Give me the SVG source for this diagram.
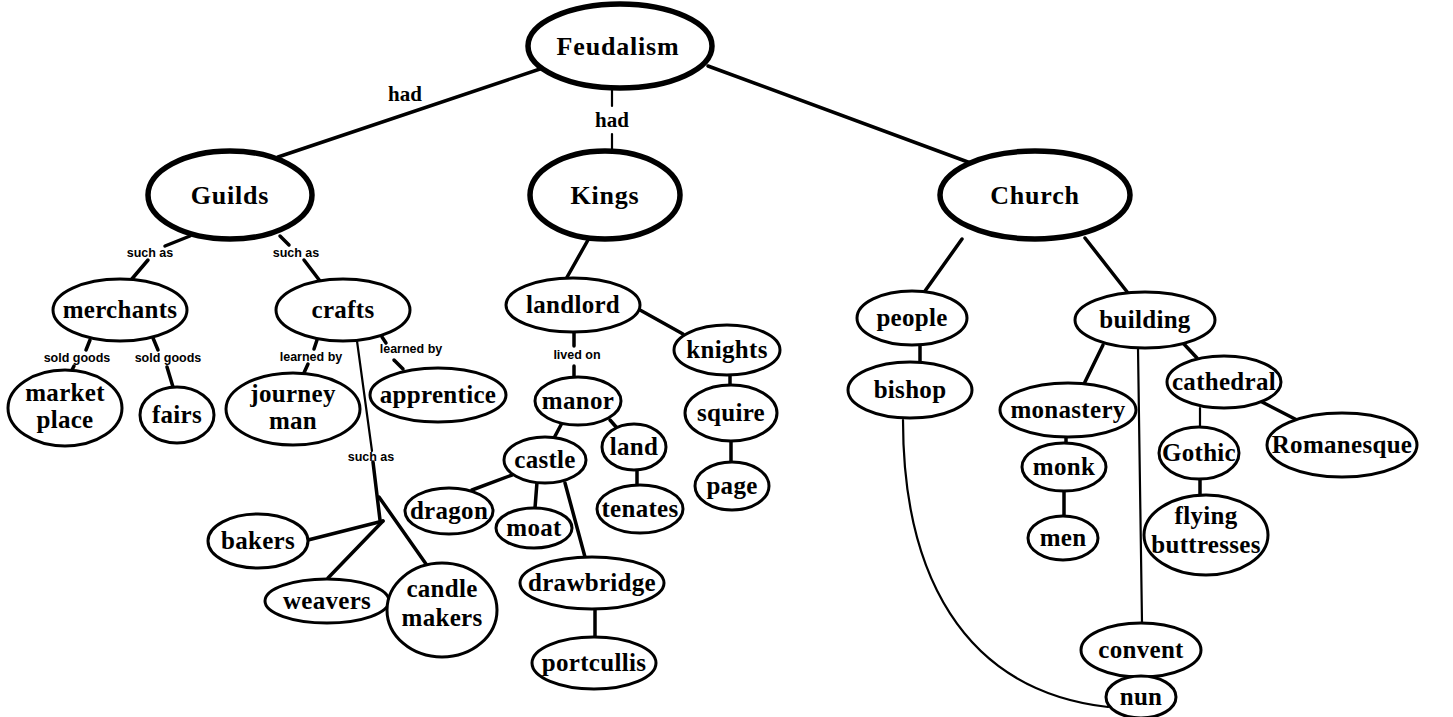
<svg xmlns="http://www.w3.org/2000/svg" width="1453" height="717" viewBox="0 0 1453 717">
<style>
.n{fill:#fff;stroke:#000;stroke-width:3}
.m{fill:#fff;stroke:#000;stroke-width:5.5}
.t{font-family:"Liberation Serif",serif;font-weight:bold;font-size:25px;letter-spacing:0.3px;text-anchor:middle;fill:#000}
.tm{font-family:"Liberation Serif",serif;font-weight:bold;font-size:26px;letter-spacing:0.8px;text-anchor:middle;fill:#000}
.l{font-family:"Liberation Sans",sans-serif;font-weight:bold;font-size:12.5px;text-anchor:middle;fill:#000}
.lh{font-family:"Liberation Serif",serif;font-weight:bold;font-size:21px;text-anchor:middle;fill:#000}
.c line,.c path{stroke:#000;stroke-width:3.5;fill:none;stroke-linecap:round}
.c .thin{stroke-width:2.2}
</style>
<rect width="1453" height="717" fill="#fff"/>
<g class="c" id="connectors">
<line x1="543" y1="68" x2="278" y2="157"/>
<line class="thin" x1="612" y1="88" x2="612" y2="106"/>
<line class="thin" x1="612" y1="134" x2="612" y2="152"/>
<line x1="708" y1="66" x2="976" y2="165"/>
<line x1="190" y1="236" x2="165" y2="246"/>
<line x1="148" y1="260" x2="131" y2="280"/>
<line x1="280" y1="236" x2="289" y2="245"/>
<line x1="304" y1="260" x2="320" y2="281"/>
<line x1="90" y1="340" x2="86" y2="350"/>
<line x1="74" y1="366" x2="70" y2="374"/>
<line x1="153" y1="338" x2="158" y2="350"/>
<line x1="167" y1="367" x2="173" y2="387"/>
<line x1="317" y1="340" x2="314" y2="349"/>
<line x1="308" y1="364" x2="303" y2="375"/>
<line x1="382" y1="337" x2="386" y2="343"/>
<line x1="394" y1="360" x2="403" y2="369"/>
<line class="thin" x1="357" y1="341" x2="372" y2="451"/>
<line x1="373" y1="462" x2="380" y2="520"/>
<line x1="383" y1="521" x2="308" y2="540"/>
<line x1="383" y1="521" x2="328" y2="578"/>
<line x1="379" y1="497" x2="426" y2="564"/>
<line x1="588" y1="240" x2="566" y2="279"/>
<line x1="574" y1="333" x2="574" y2="346"/>
<line x1="574" y1="366" x2="574" y2="377"/>
<line x1="640" y1="310" x2="683" y2="334"/>
<line x1="730" y1="375" x2="730" y2="386"/>
<line x1="731" y1="442" x2="731" y2="462"/>
<line x1="562" y1="423" x2="554" y2="438"/>
<line x1="610" y1="420" x2="617" y2="428"/>
<line x1="637" y1="470" x2="637" y2="485"/>
<line x1="512" y1="475" x2="472" y2="490"/>
<line x1="537" y1="482" x2="535" y2="508"/>
<line x1="565" y1="483" x2="585" y2="557"/>
<line x1="595" y1="609" x2="595" y2="637"/>
<line x1="962" y1="239" x2="925" y2="291"/>
<line x1="1085" y1="238" x2="1128" y2="293"/>
<line x1="920" y1="346" x2="920" y2="362"/>
<line x1="1103" y1="345" x2="1083" y2="386"/>
<line x1="1183" y1="343" x2="1197" y2="358"/>
<line class="thin" x1="1138" y1="348" x2="1142" y2="623"/>
<line x1="1142" y1="677" x2="1142" y2="676"/>
<line x1="1262" y1="402" x2="1297" y2="420"/>
<line class="thin" x1="1200" y1="408" x2="1200" y2="428"/>
<line x1="1200" y1="478" x2="1200" y2="496"/>
<line x1="1066" y1="437" x2="1066" y2="444"/>
<line x1="1064" y1="491" x2="1064" y2="516"/>
<path class="thin" d="M903 420 C903 570 960 690 1108 707"/>
</g>
<g id="labels">
<text class="lh" x="405" y="101">had</text>
<text class="lh" x="612" y="127">had</text>
<text class="l" x="150" y="257">such as</text>
<text class="l" x="296" y="257">such as</text>
<text class="l" x="77" y="362">sold goods</text>
<text class="l" x="168" y="362">sold goods</text>
<text class="l" x="311" y="361">learned by</text>
<text class="l" x="411" y="353">learned by</text>
<text class="l" x="371" y="461">such as</text>
<text class="l" x="577" y="359">lived on</text>
</g>
<g id="Feudalism"><ellipse class="m" cx="620" cy="46" rx="92" ry="42"/><text class="tm" x="618" y="55">Feudalism</text></g>
<g id="Guilds"><ellipse class="m" cx="230" cy="195" rx="82" ry="44"/><text class="tm" x="230" y="204">Guilds</text></g>
<g id="Kings"><ellipse class="m" cx="605" cy="195" rx="75" ry="44"/><text class="tm" x="605" y="204">Kings</text></g>
<g id="Church"><ellipse class="m" cx="1035" cy="195" rx="95" ry="44"/><text class="tm" x="1035" y="204">Church</text></g>
<g id="merchants"><ellipse class="n" cx="120" cy="310" rx="67" ry="31"/><text class="t" x="120" y="318">merchants</text></g>
<g id="crafts"><ellipse class="n" cx="343" cy="310" rx="67" ry="31"/><text class="t" x="343" y="318">crafts</text></g>
<g id="market-place"><ellipse class="n" cx="65" cy="408" rx="57" ry="38"/><text class="t" x="65" y="401">market</text><text class="t" x="65" y="428">place</text></g>
<g id="fairs"><ellipse class="n" cx="177" cy="415" rx="37" ry="28"/><text class="t" x="177" y="423">fairs</text></g>
<g id="journey-man"><ellipse class="n" cx="293" cy="409" rx="67" ry="36"/><text class="t" x="293" y="402">journey</text><text class="t" x="293" y="429">man</text></g>
<g id="apprentice"><ellipse class="n" cx="438" cy="395" rx="68" ry="27"/><text class="t" x="438" y="403">apprentice</text></g>
<g id="bakers"><ellipse class="n" cx="258" cy="541" rx="50" ry="27"/><text class="t" x="258" y="549">bakers</text></g>
<g id="weavers"><ellipse class="n" cx="327" cy="601" rx="62" ry="22"/><text class="t" x="327" y="609">weavers</text></g>
<g id="candle-makers"><ellipse class="n" cx="442" cy="610" rx="55" ry="47"/><text class="t" x="442" y="597">candle</text><text class="t" x="442" y="626">makers</text></g>
<g id="landlord"><ellipse class="n" cx="573" cy="305" rx="67" ry="27"/><text class="t" x="573" y="313">landlord</text></g>
<g id="knights"><ellipse class="n" cx="727" cy="350" rx="53" ry="25"/><text class="t" x="727" y="358">knights</text></g>
<g id="manor"><ellipse class="n" cx="578" cy="401" rx="43" ry="24"/><text class="t" x="578" y="409">manor</text></g>
<g id="squire"><ellipse class="n" cx="731" cy="413" rx="46" ry="28"/><text class="t" x="731" y="421">squire</text></g>
<g id="land"><ellipse class="n" cx="634" cy="447" rx="32" ry="23"/><text class="t" x="634" y="455">land</text></g>
<g id="castle"><ellipse class="n" cx="545" cy="460" rx="41" ry="23"/><text class="t" x="545" y="468">castle</text></g>
<g id="page"><ellipse class="n" cx="732" cy="486" rx="37" ry="24"/><text class="t" x="732" y="494">page</text></g>
<g id="dragon"><ellipse class="n" cx="449" cy="511" rx="44" ry="23"/><text class="t" x="449" y="519">dragon</text></g>
<g id="moat"><ellipse class="n" cx="534" cy="528" rx="38" ry="20"/><text class="t" x="534" y="536">moat</text></g>
<g id="tenates"><ellipse class="n" cx="640" cy="509" rx="43" ry="24"/><text class="t" x="640" y="517">tenates</text></g>
<g id="drawbridge"><ellipse class="n" cx="592" cy="583" rx="72" ry="26"/><text class="t" x="592" y="591">drawbridge</text></g>
<g id="portcullis"><ellipse class="n" cx="594" cy="663" rx="62" ry="26"/><text class="t" x="594" y="671">portcullis</text></g>
<g id="people"><ellipse class="n" cx="912" cy="318" rx="55" ry="27"/><text class="t" x="912" y="326">people</text></g>
<g id="building"><ellipse class="n" cx="1145" cy="320" rx="70" ry="28"/><text class="t" x="1145" y="328">building</text></g>
<g id="bishop"><ellipse class="n" cx="910" cy="390" rx="62" ry="28"/><text class="t" x="910" y="398">bishop</text></g>
<g id="monastery"><ellipse class="n" cx="1068" cy="410" rx="68" ry="27"/><text class="t" x="1068" y="418">monastery</text></g>
<g id="cathedral"><ellipse class="n" cx="1224" cy="382" rx="57" ry="26"/><text class="t" x="1224" y="390">cathedral</text></g>
<g id="Romanesque"><ellipse class="n" cx="1342" cy="445" rx="75" ry="32"/><text class="t" x="1342" y="453">Romanesque</text></g>
<g id="Gothic"><ellipse class="n" cx="1199" cy="453" rx="40" ry="26"/><text class="t" x="1199" y="461">Gothic</text></g>
<g id="flying-buttresses"><ellipse class="n" cx="1206" cy="535" rx="62" ry="40"/><text class="t" x="1206" y="524">flying</text><text class="t" x="1206" y="553">buttresses</text></g>
<g id="monk"><ellipse class="n" cx="1064" cy="467" rx="42" ry="24"/><text class="t" x="1064" y="475">monk</text></g>
<g id="men"><ellipse class="n" cx="1063" cy="538" rx="35" ry="22"/><text class="t" x="1063" y="546">men</text></g>
<g id="convent"><ellipse class="n" cx="1141" cy="650" rx="60" ry="27"/><text class="t" x="1141" y="658">convent</text></g>
<g id="nun"><ellipse class="n" cx="1141" cy="697" rx="35" ry="21"/><text class="t" x="1141" y="705">nun</text></g>
</svg>
